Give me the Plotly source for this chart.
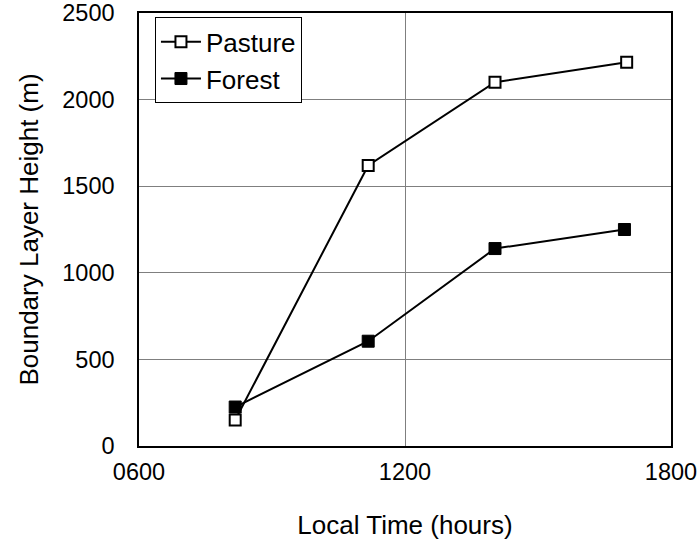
import plotly.graph_objects as go

# Boundary layer height over the day, pasture vs forest sites
pasture_time = [8.17, 11.17, 14.03, 17.0]      # local time, decimal hours
pasture_height = [150, 1620, 2100, 2215]       # m
forest_time = [8.17, 11.17, 14.03, 16.95]
forest_height = [225, 605, 1140, 1250]

x_tick_vals = [6, 12, 18]
x_tick_text = ["0600", "1200", "1800"]
y_tick_vals = [0, 500, 1000, 1500, 2000, 2500]

FONT = "Liberation Sans, Arial, sans-serif"

fig = go.Figure()
fig.add_trace(go.Scatter(
    x=pasture_time, y=pasture_height, name="Pasture", mode="lines+markers",
    line=dict(color="black", width=2),
    marker=dict(symbol="square", size=11, color="white",
                line=dict(color="black", width=2)),
))
fig.add_trace(go.Scatter(
    x=forest_time, y=forest_height, name="Forest", mode="lines+markers",
    line=dict(color="black", width=2),
    marker=dict(symbol="square", size=12, color="black",
                line=dict(color="black", width=1)),
))

axis_common = dict(
    showline=True, linecolor="black", linewidth=1.5, mirror=True,
    showgrid=True, gridcolor="#7f7f7f", gridwidth=1,
    zeroline=False, ticks="", automargin=False, ticklabeloverflow="allow",
    tickfont=dict(family=FONT, size=23.5, color="black"),
)

fig.update_layout(
    template="none",
    width=698, height=540,
    margin=dict(l=139, r=27, t=13, b=94),
    plot_bgcolor="white", paper_bgcolor="white",
    font=dict(family=FONT, color="black"),
    showlegend=True,
    legend=dict(
        x=0.03, y=0.99, xanchor="left", yanchor="top",
        bordercolor="black", borderwidth=1, bgcolor="white",
        font=dict(family=FONT, size=26, color="black"),
        tracegroupgap=0, itemwidth=40,
    ),
    xaxis=dict(
        range=[6, 18], tickvals=x_tick_vals, ticktext=x_tick_text,
        ticklabelstandoff=4,
        title=dict(text="Local Time (hours)", standoff=42,
                   font=dict(family=FONT, size=26, color="black")),
        **axis_common,
    ),
    yaxis=dict(
        range=[0, 2500], tickvals=y_tick_vals,
        ticklabelstandoff=18,
        title=dict(text="Boundary Layer Height (m)", standoff=16,
                   font=dict(family=FONT, size=26, color="black")),
        **axis_common,
    ),
)

fig.write_html("out.html")
